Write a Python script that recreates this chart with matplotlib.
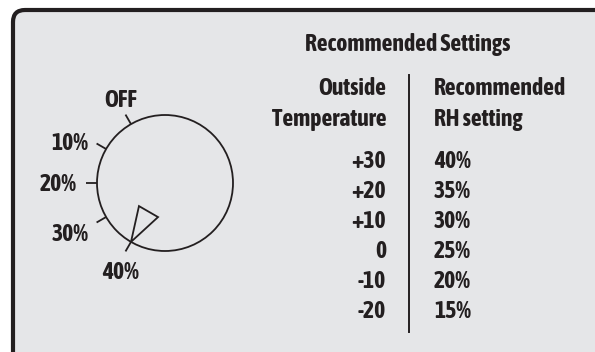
import numpy as np
import matplotlib
matplotlib.use('Agg')
from matplotlib import pyplot as plt
from matplotlib import font_manager
from matplotlib.font_manager import FontProperties
from matplotlib.patches import FancyBboxPatch, Circle, Polygon

# Data
dial_values = [0, 10, 20, 30, 40]
dial_labels = ['OFF', '10%', '20%', '30%', '40%']
current_setting = 40
title = 'Recommended Settings'
col_headers = [['Outside', 'Temperature'], ['Recommended', 'RH setting']]
outside_temps = ['+30', '+20', '+10', '0', '-10', '-20']
rh_settings = ['40%', '35%', '30%', '25%', '20%', '15%']

INK = '#231f20'
BG = '#e5e6e8'


def wnum(w):
    if isinstance(w, str):
        return font_manager.weight_dict.get(w, 400)
    return w


def pick_font():
    # look for a condensed / narrow bold face, otherwise a plain bold one
    good = []
    for f in font_manager.fontManager.ttflist:
        narrow = (f.stretch in ('condensed', 'semi-condensed', 'extra-condensed')
                  or 'Narrow' in f.name or 'Condensed' in f.name
                  or 'Condensed' in f.fname or 'Narrow' in f.fname)
        if narrow and 600 <= wnum(f.weight) <= 800 and f.style == 'normal':
            rank = 0 if f.stretch == 'condensed' or 'Condensed' in f.name else 1
            good.append((rank, f.name, f.fname))
    if good:
        good.sort()
        return FontProperties(fname=good[0][2])
    return FontProperties(family='Roboto', weight='bold')


base = pick_font()

fig = plt.figure(figsize=(5.95, 3.52), dpi=100)
ax = fig.add_axes([0, 0, 1, 1])
ax.set_xlim(0, 595)
ax.set_ylim(352, 0)
ax.set_aspect('equal')
ax.axis('off')

# size the font from the title width in the reference (~207 px), a bit larger
probe = fig.text(0, 0, title, fontproperties=base, fontsize=16)
fig.canvas.draw()
w = probe.get_window_extent().width
probe.remove()
FS = min(16 * 215 / w, 17)
fp = base.copy()
fp.set_size(FS)
cap = 0.714 * FS * 100 / 72   # cap height in px

# panel
ax.add_patch(FancyBboxPatch((13, 10), 700, 500,
                            boxstyle='round,pad=0,rounding_size=12',
                            facecolor=BG, edgecolor=INK, lw=3))

# dial
cx, cy, r = 165, 183, 68
ax.add_patch(Circle((cx, cy), r, fill=False, edgecolor=INK, lw=1.3))


def ang(v):
    # 0% at 120 deg, 30 deg per 10%
    return np.radians(120 + 3 * v)


def pt(rad, a):
    return cx + rad * np.cos(a), cy - rad * np.sin(a)


for v, lab in zip(dial_values, dial_labels):
    a = ang(v)
    x0, y0 = pt(r, a)
    x1, y1 = pt(r + 11, a)
    ax.plot([x0, x1], [y0, y1], color=INK, lw=1.3, solid_capstyle='butt')
    lx, ly = pt(r + 20, a)
    deg = np.degrees(a)
    if deg < 135:
        ax.text(lx, ly, lab, ha='center', va='baseline', fontproperties=fp, color=INK)
    elif deg > 225:
        ax.text(lx, ly + cap + 3, lab, ha='center', va='baseline',
                fontproperties=fp, color=INK)
    else:
        off = cap / 2 + abs(deg - 180) * 0.12 + (deg - 180) * 0.05
        ax.text(lx, ly + off, lab, ha='right', va='baseline',
                fontproperties=fp, color=INK)

# pointer
a = ang(current_setting)
tip = pt(r, a)
bx, by = pt(33, a)
px, py = np.sin(a), np.cos(a)
tri = [tip, (bx + 11 * px, by + 11 * py), (bx - 11 * px, by - 11 * py)]
ax.add_patch(Polygon(tri, closed=True, fill=False, edgecolor=INK, lw=1.3,
                     joinstyle='miter'))

# table
ax.text(408, 51.5, title, ha='center', va='baseline', fontproperties=fp, color=INK)
for j, line in enumerate(col_headers[0]):
    ax.text(386, 95 + 31 * j, line, ha='right', va='baseline', fontproperties=fp, color=INK)
for j, line in enumerate(col_headers[1]):
    ax.text(434, 95 + 31 * j, line, ha='left', va='baseline', fontproperties=fp, color=INK)
ax.plot([409, 409], [75, 332], color=INK, lw=1.4)

for i, (t, h) in enumerate(zip(outside_temps, rh_settings)):
    y = 167.5 + 30 * i
    ax.text(386, y, t, ha='right', va='baseline', fontproperties=fp, color=INK)
    ax.text(434, y, h, ha='left', va='baseline', fontproperties=fp, color=INK)

fig.savefig('out.png', dpi=100, facecolor='white')
